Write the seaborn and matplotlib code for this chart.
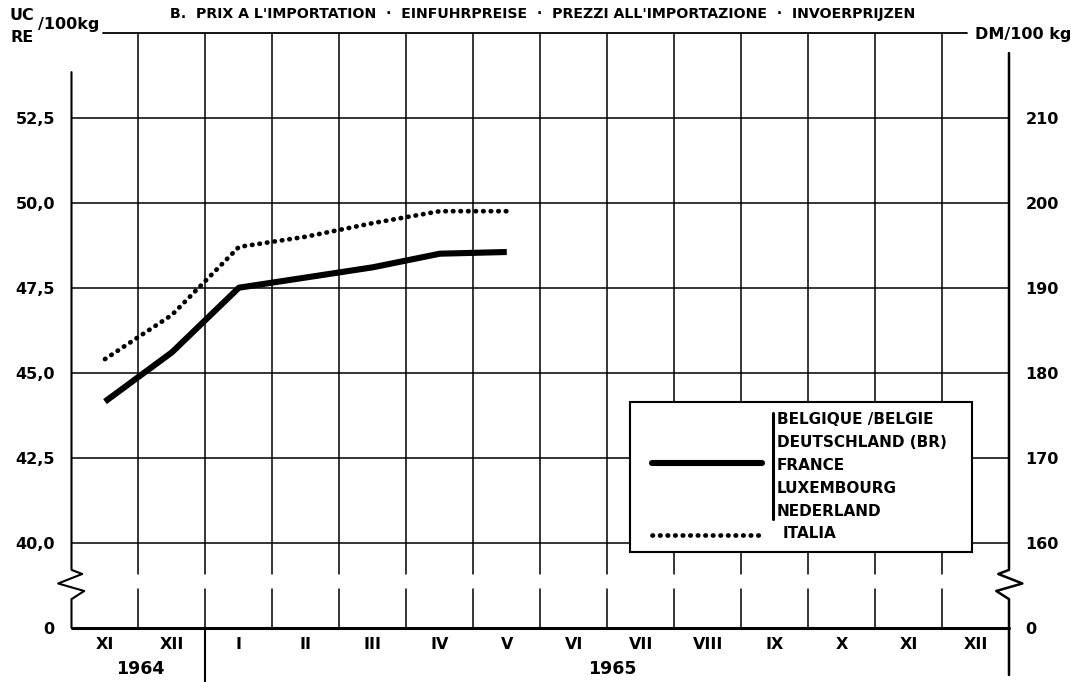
import matplotlib
matplotlib.use("Agg")
import matplotlib.pyplot as plt
import seaborn as sns
import pandas as pd
from matplotlib.lines import Line2D
from matplotlib.patches import Rectangle

# data (UC/RE per 100 kg)
months = ["XI", "XII", "I", "II", "III", "IV", "V", "VI", "VII", "VIII", "IX", "X", "XI", "XII"]
years = ["1964", "1965"]
cee_prices = [44.15, 45.6, 47.5, 47.8, 48.1, 48.5, 48.55]
italia_prices = [45.4, 46.7, 48.7, 49.0, 49.4, 49.75, 49.75]
uc_ticks = [40.0, 42.5, 45.0, 47.5, 50.0, 52.5]
cee_countries = ["BELGIQUE /BELGIE", "DEUTSCHLAND (BR)", "FRANCE", "LUXEMBOURG", "NEDERLAND"]
title = "B.  PRIX A L'IMPORTATION  ·  EINFUHRPREISE  ·  PREZZI ALL'IMPORTAZIONE  ·  INVOERPRIJZEN"

W, H = 1080, 682
def fx(x):
    return x / W
def fy(y):
    return 1 - y / H

sns.set_theme(style="white")
plt.rcParams["font.family"] = ["DejaVu Sans"]
plt.rcParams["font.weight"] = "bold"
plt.rcParams["text.color"] = "black"
plt.rcParams["xtick.color"] = "black"
plt.rcParams["ytick.color"] = "black"

dots = (0, (0.1, 1.5))

fig = plt.figure(figsize=(10.8, 6.82), dpi=100)
ax = fig.add_axes([fx(71.5), fy(627.7), (1009 - 71.5) / W, (627.7 - 32.7) / H])

df = pd.DataFrame({
    "pos": list(range(len(cee_prices))) * 2,
    "price": cee_prices + italia_prices,
    "group": ["cee"] * len(cee_prices) + ["ita"] * len(italia_prices),
})

sns.lineplot(data=df[df.group == "cee"], x="pos", y="price", color="black",
             lw=4.4, solid_capstyle="butt", solid_joinstyle="round", ax=ax, zorder=5)
sns.lineplot(data=df[df.group == "ita"], x="pos", y="price", color="black",
             lw=3.4, linestyle=dots, dash_capstyle="round", ax=ax, zorder=5)

ybot, ytop = 37.5, 55.0
ax.set_xlim(-0.5, len(months) - 0.5)
ax.set_ylim(ybot, ytop)
sns.despine(ax=ax, left=True, bottom=True, top=True, right=True)
ax.set_xlabel("")
ax.set_ylabel("")

# grid
gap_lo, gap_hi = 38.64, 39.08
for uc in uc_ticks:
    ax.axhline(uc, color="black", lw=1.1, zorder=1)
for i in range(len(months) - 1):
    b = i + 0.5
    ax.plot([b, b], [ybot, gap_lo], color="black", lw=1.1, zorder=1)
    ax.plot([b, b], [gap_hi, ytop], color="black", lw=1.1, zorder=1)
ax.plot([-0.03, 12.87], [ytop, ytop], color="black", lw=1.3, clip_on=False, zorder=1)
ax.axhline(ybot, color="black", lw=2.2, zorder=2, clip_on=False)
# year separator
ax.plot([1.5, 1.5], [35.9, ybot], color="black", lw=1.5, clip_on=False)

# axes with break marks
xl, xr = -0.5, len(months) - 0.5
zz_y = [38.34, 38.58, 38.8, 39.08, 39.2]
zz_dx = [0, 0.19, -0.2, 0.16, 0]
ax.plot([xl] + [xl + d for d in zz_dx] + [xl],
        [ybot] + zz_y + [53.84], color="black", lw=1.5, clip_on=False, zorder=3)
ax.plot([xr] + [xr - d for d in zz_dx] + [xr],
        [36.11] + zz_y + [54.4], color="black", lw=1.8, clip_on=False, zorder=3)

# ticks
ax.set_yticks([ybot] + uc_ticks)
ax.set_yticklabels(["0"] + [f"{v:.1f}".replace(".", ",") for v in uc_ticks],
                   fontsize=11.5, fontweight="bold")
ax.tick_params(axis="y", length=0, pad=12)
ax.set_xticks(range(len(months)))
ax.set_xticklabels(months, fontsize=11.5, fontweight="bold")
ax.tick_params(axis="x", length=0, pad=7)

ax2 = ax.twinx()
ax2.set_ylim(ybot, ytop)
ax2.set_yticks([ybot] + uc_ticks)
ax2.set_yticklabels(["0"] + [f"{int(round(v * 4))}" for v in uc_ticks],
                    fontsize=11.5, fontweight="bold")
ax2.tick_params(axis="y", length=0, pad=12)
sns.despine(ax=ax2, left=True, bottom=True, top=True, right=True)
ax2.grid(False)

# years
fig.text(fx(140), fy(669), years[0], ha="center", va="center", fontsize=12.5, fontweight="bold")
fig.text(fx(612), fy(669), years[1], ha="center", va="center", fontsize=12.5, fontweight="bold")

# units and title
fig.text(fx(22), fy(16), "UC", ha="center", va="center", fontsize=11.5, fontweight="bold")
fig.text(fx(22), fy(38), "RE", ha="center", va="center", fontsize=11.5, fontweight="bold")
fig.text(fx(38), fy(25), "/100kg", ha="left", va="center", fontsize=11.5, fontweight="bold")
fig.text(fx(975), fy(35), "DM/100 kg", ha="left", va="center", fontsize=11.5, fontweight="bold")
fig.text(fx(543), fy(14), title, ha="center", va="center", fontsize=10.2, fontweight="bold")

# legend box
fig.patches.append(Rectangle((fx(630), fy(552)), (972 - 630) / W, (552 - 402) / H,
                             transform=fig.transFigure, facecolor="white",
                             edgecolor="black", lw=1.5, zorder=10))
fig.lines.append(Line2D([fx(652), fx(762)], [fy(463), fy(463)], transform=fig.transFigure,
                        color="black", lw=4.4, zorder=11))
fig.lines.append(Line2D([fx(652), fx(762)], [fy(535), fy(535)], transform=fig.transFigure,
                        color="black", lw=3.4, linestyle=dots,
                        dash_capstyle="round", zorder=11))
fig.lines.append(Line2D([fx(773), fx(773)], [fy(413), fy(519)], transform=fig.transFigure,
                        color="black", lw=2.2, zorder=11))
for k, name in enumerate(cee_countries):
    fig.text(fx(777), fy(420 + k * 22.8), name, ha="left", va="center",
             fontsize=11, fontweight="bold", zorder=12)
fig.text(fx(783), fy(534), "ITALIA", ha="left", va="center", fontsize=11,
         fontweight="bold", zorder=12)

fig.savefig("out.png", dpi=100)
